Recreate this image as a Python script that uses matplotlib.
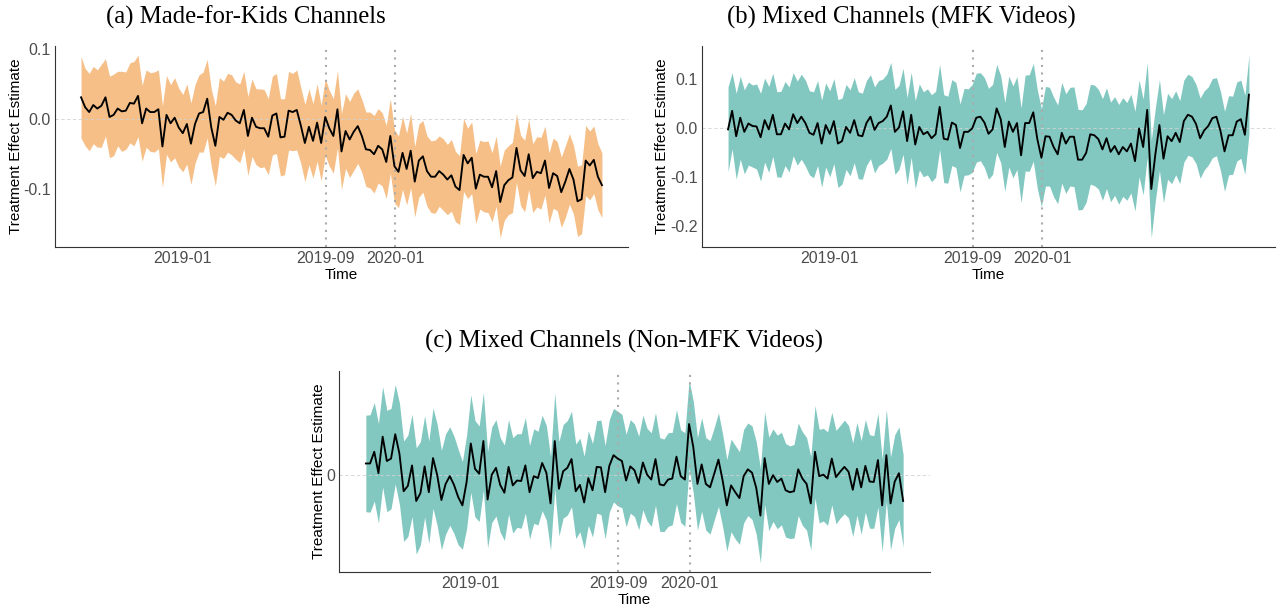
import numpy as np
import pandas as pd
import matplotlib
matplotlib.use("Agg")
import matplotlib.pyplot as plt
import matplotlib.dates as mdates

# ---------------- data ----------------
start_date = "2018-07-10"
n_weeks = 129
tick_dates = ["2019-01-01", "2019-09-04", "2020-01-01"]
tick_labels = ["2019-01", "2019-09", "2020-01"]
event_dates = ["2019-09-04", "2020-01-01"]

est_a = [0.031, 0.017, 0.010, 0.020, 0.015, 0.019, 0.031, 0.003, 0.006, 0.015,
         0.011, 0.012, 0.023, 0.022, 0.033, -0.006, 0.015, 0.010, 0.010, 0.014,
         -0.039, 0.006, -0.006, 0.002, -0.012, -0.020, -0.007, -0.035, -0.007, 0.008,
         0.010, 0.029, -0.012, -0.038, 0.003, -0.001, 0.009, 0.006, -0.002, -0.006,
         0.013, -0.024, 0.002, -0.011, -0.013, -0.013, -0.025, 0.005, 0.008, -0.026,
         -0.025, 0.012, 0.010, 0.013, -0.009, -0.034, -0.011, -0.031, -0.005, -0.034,
         0.003, -0.013, -0.024, 0.014, -0.046, -0.017, -0.029, -0.018, -0.010, -0.024,
         -0.043, -0.044, -0.050, -0.038, -0.043, -0.061, -0.024, -0.067, -0.075, -0.048,
         -0.071, -0.045, -0.089, -0.059, -0.053, -0.074, -0.082, -0.082, -0.074, -0.079,
         -0.086, -0.080, -0.096, -0.101, -0.051, -0.063, -0.055, -0.099, -0.079, -0.082,
         -0.082, -0.097, -0.074, -0.118, -0.094, -0.087, -0.083, -0.041, -0.073, -0.081,
         -0.050, -0.084, -0.075, -0.077, -0.059, -0.098, -0.077, -0.081, -0.104, -0.089,
         -0.071, -0.086, -0.117, -0.114, -0.059, -0.066, -0.058, -0.082, -0.094]
hw_a = [0.058, 0.055, 0.055, 0.055, 0.055, 0.059, 0.055, 0.058, 0.058, 0.053,
        0.057, 0.055, 0.057, 0.060, 0.058, 0.054, 0.055, 0.056, 0.057, 0.056,
        0.058, 0.056, 0.055, 0.057, 0.056, 0.055, 0.057, 0.058, 0.056, 0.055,
        0.057, 0.056, 0.055, 0.057, 0.056, 0.055, 0.056, 0.057, 0.055, 0.056,
        0.055, 0.056, 0.055, 0.054, 0.056, 0.055, 0.054, 0.056, 0.057, 0.055,
        0.054, 0.056, 0.055, 0.057, 0.054, 0.055, 0.054, 0.053, 0.055, 0.054,
        0.055, 0.054, 0.053, 0.055, 0.054, 0.053, 0.054, 0.055, 0.053, 0.052,
        0.053, 0.054, 0.055, 0.053, 0.052, 0.052, 0.053, 0.052, 0.051, 0.052,
        0.051, 0.053, 0.050, 0.052, 0.051, 0.050, 0.051, 0.052, 0.050, 0.051,
        0.050, 0.051, 0.050, 0.049, 0.052, 0.050, 0.051, 0.050, 0.049, 0.050,
        0.051, 0.049, 0.050, 0.051, 0.050, 0.049, 0.050, 0.049, 0.050, 0.051,
        0.050, 0.049, 0.050, 0.051, 0.049, 0.050, 0.050, 0.049, 0.050, 0.051,
        0.050, 0.049, 0.050, 0.049, 0.050, 0.049, 0.048, 0.047, 0.046]

est_b = [-0.003, 0.035, -0.017, 0.021, -0.008, 0.009, 0.004, 0.003, -0.019, 0.016,
         -0.003, 0.027, -0.013, -0.013, 0.009, -0.003, 0.028, 0.010, 0.023, 0.010,
         -0.010, -0.014, 0.010, -0.032, 0.006, -0.012, 0.014, -0.032, -0.027, 0.002,
         -0.010, 0.016, -0.015, -0.017, 0.010, 0.023, -0.004, 0.010, 0.014, 0.023,
         0.046, -0.008, 0.001, 0.034, -0.027, 0.027, -0.034, 0.002, -0.013, -0.008,
         -0.021, -0.013, 0.043, -0.022, -0.024, 0.011, 0.006, -0.041, -0.008, -0.008,
         -0.001, 0.021, 0.023, 0.011, -0.012, -0.003, 0.040, 0.018, -0.039, 0.013,
         -0.008, 0.010, -0.056, 0.010, 0.010, 0.032, -0.023, -0.061, -0.017, -0.018,
         -0.039, -0.054, -0.010, -0.032, -0.018, -0.018, -0.065, -0.065, -0.051, -0.013,
         -0.015, -0.023, -0.044, -0.021, -0.049, -0.037, -0.054, -0.039, -0.048, -0.032,
         -0.068, -0.001, -0.039, 0.037, -0.125, -0.054, 0.006, -0.063, -0.017, -0.027,
         -0.010, -0.029, 0.014, 0.027, 0.023, 0.008, -0.021, -0.005, 0.004, 0.020,
         0.023, -0.006, -0.048, -0.015, -0.015, 0.013, 0.018, -0.014, 0.068]
hw_b = [0.087, 0.078, 0.088, 0.085, 0.086, 0.085, 0.084, 0.087, 0.090, 0.086,
        0.088, 0.085, 0.087, 0.088, 0.086, 0.087, 0.085, 0.086, 0.087, 0.088,
        0.086, 0.088, 0.087, 0.089, 0.086, 0.088, 0.087, 0.090, 0.088, 0.087,
        0.088, 0.087, 0.089, 0.088, 0.087, 0.086, 0.088, 0.087, 0.086, 0.087,
        0.088, 0.087, 0.086, 0.088, 0.089, 0.087, 0.090, 0.088, 0.087, 0.088,
        0.089, 0.088, 0.087, 0.090, 0.089, 0.088, 0.087, 0.090, 0.089, 0.088,
        0.090, 0.091, 0.090, 0.092, 0.093, 0.092, 0.090, 0.089, 0.091, 0.093,
        0.094, 0.095, 0.097, 0.098, 0.099, 0.100, 0.101, 0.100, 0.102, 0.101,
        0.102, 0.101, 0.103, 0.102, 0.101, 0.102, 0.103, 0.102, 0.101, 0.102,
        0.103, 0.102, 0.104, 0.103, 0.102, 0.101, 0.102, 0.101, 0.100, 0.101,
        0.102, 0.099, 0.098, 0.097, 0.100, 0.095, 0.093, 0.090, 0.088, 0.087,
        0.086, 0.085, 0.084, 0.083, 0.082, 0.081, 0.082, 0.081, 0.080, 0.081,
        0.080, 0.081, 0.082, 0.081, 0.080, 0.081, 0.080, 0.081, 0.081]

est_c = [0.023, 0.023, 0.047, 0.003, 0.078, 0.028, 0.033, 0.083, 0.043, -0.034,
         -0.023, 0.019, -0.054, -0.038, 0.017, -0.036, 0.034, -0.001, -0.052, -0.019,
         -0.003, -0.021, -0.046, -0.063, -0.015, 0.064, 0.012, 0.002, 0.069, -0.051,
         0.000, 0.014, -0.021, -0.037, 0.016, -0.022, -0.012, -0.013, 0.019, -0.036,
         -0.003, -0.007, 0.024, 0.004, -0.059, 0.069, -0.029, 0.007, 0.014, 0.032,
         -0.034, -0.021, -0.057, -0.007, -0.032, 0.016, 0.015, -0.036, 0.018, 0.040,
         0.033, 0.028, -0.012, 0.017, 0.009, -0.017, 0.025, 0.000, -0.010, 0.032,
         -0.020, -0.022, -0.010, -0.008, 0.037, -0.003, -0.010, 0.104, 0.057, -0.019,
         0.021, -0.019, -0.026, 0.002, 0.031, -0.012, -0.063, -0.022, -0.036, -0.048,
         -0.003, 0.011, 0.004, -0.027, -0.084, 0.034, -0.019, -0.001, -0.015, -0.008,
         -0.032, -0.036, -0.034, 0.011, -0.008, -0.019, -0.059, 0.047, -0.003, 0.000,
         -0.008, 0.033, -0.005, 0.006, 0.016, 0.006, -0.031, 0.012, -0.026, 0.018,
         -0.014, -0.015, 0.030, -0.063, 0.040, -0.059, -0.014, 0.003, -0.054]
hw_c = [0.099, 0.100, 0.101, 0.102, 0.103, 0.104, 0.103, 0.102, 0.104, 0.103,
        0.104, 0.105, 0.109, 0.106, 0.104, 0.105, 0.103, 0.104, 0.102, 0.103,
        0.101, 0.100, 0.098, 0.090, 0.096, 0.100, 0.099, 0.098, 0.100, 0.099,
        0.098, 0.099, 0.097, 0.098, 0.097, 0.098, 0.096, 0.097, 0.098, 0.096,
        0.097, 0.096, 0.098, 0.097, 0.096, 0.098, 0.097, 0.096, 0.097, 0.098,
        0.097, 0.096, 0.095, 0.097, 0.096, 0.095, 0.097, 0.096, 0.095, 0.096,
        0.097, 0.096, 0.095, 0.096, 0.095, 0.096, 0.097, 0.095, 0.096, 0.095,
        0.096, 0.095, 0.096, 0.095, 0.096, 0.095, 0.096, 0.090, 0.094, 0.095,
        0.096, 0.095, 0.096, 0.095, 0.096, 0.095, 0.094, 0.095, 0.096, 0.095,
        0.096, 0.095, 0.096, 0.095, 0.097, 0.095, 0.096, 0.095, 0.096, 0.095,
        0.096, 0.095, 0.096, 0.095, 0.096, 0.095, 0.096, 0.095, 0.096, 0.095,
        0.096, 0.095, 0.096, 0.095, 0.096, 0.095, 0.096, 0.095, 0.096, 0.095,
        0.096, 0.095, 0.096, 0.095, 0.094, 0.095, 0.096, 0.095, 0.095]

titles = ["(a) Made-for-Kids Channels",
          "(b) Mixed Channels (MFK Videos)",
          "(c) Mixed Channels (Non-MFK Videos)"]
yticks_a = [0.1, 0.0, -0.1]
yticks_b = [0.1, 0.0, -0.1, -0.2]
yticks_c = [0.0]
yticklabels_a = ["0.1", "0.0", "-0.1"]
yticklabels_b = ["0.1", "0.0", "-0.1", "-0.2"]
yticklabels_c = ["0"]

# ---------------- style ----------------
ORANGE = "#F5BF87"
TEAL = "#82C8C1"
W, H = 1278, 605
SANS = ["Liberation Sans", "DejaVu Sans"]
SERIF = ["Liberation Serif", "DejaVu Serif"]

fig = plt.figure(figsize=(W / 100, H / 100), dpi=100)


def box(x0, y0, x1, y1):
    return [x0 / W, 1 - y1 / H, (x1 - x0) / W, (y1 - y0) / H]


dates = pd.date_range(start_date, periods=n_weeks, freq="7D")


def panel(rect, est, hw, color, yt, ytl, ylab_x):
    ax = fig.add_axes(rect)
    est = np.asarray(est, dtype=float)
    hw = np.asarray(hw, dtype=float)
    n = min(len(est), len(hw), len(dates))
    d = dates[:n]
    lo = est[:n] - hw[:n]
    hi = est[:n] + hw[:n]
    ax.fill_between(d, lo, hi, color=color, lw=0, zorder=1)
    ax.axhline(0, color="#D2D2D2", lw=0.6, ls=(0, (4, 3)), zorder=2)
    for ed in event_dates:
        ax.axvline(pd.Timestamp(ed), color="#ABABAB", lw=1.5,
                   ls=(0, (1.0, 2.6)), zorder=3, dash_capstyle="butt")
    ax.plot(d, est[:n], color="black", lw=1.35, zorder=4)
    x0 = mdates.date2num(d[0])
    x1 = mdates.date2num(d[-1])
    span = x1 - x0
    ax.set_xlim(x0 - 0.05 * span, x1 + 0.05 * span)
    ymin, ymax = lo.min(), hi.max()
    yr = ymax - ymin
    ax.set_ylim(ymin - 0.05 * yr, ymax + 0.05 * yr)
    ax.set_xticks([mdates.date2num(pd.Timestamp(t)) for t in tick_dates])
    ax.set_xticklabels(tick_labels)
    ax.set_yticks(yt)
    ax.set_yticklabels(ytl)
    for s in ["top", "right"]:
        ax.spines[s].set_visible(False)
    for s in ["left", "bottom"]:
        ax.spines[s].set_color("#333333")
        ax.spines[s].set_linewidth(0.8)
    ax.tick_params(length=0, pad=3, labelsize=11.5, labelcolor="#4D4D4D")
    for lab in ax.get_xticklabels() + ax.get_yticklabels():
        lab.set_family(SANS)
    ax.set_xlabel("Time", family=SANS, fontsize=11, labelpad=1)
    ax.set_ylabel("Treatment Effect Estimate", family=SANS, fontsize=11)
    ax.yaxis.set_label_coords(ylab_x, 0.5)
    return ax


panel(box(55, 46, 628, 247), est_a, hw_a, ORANGE, yticks_a, yticklabels_a, -0.056)
panel(box(702, 46, 1275, 247), est_b, hw_b, TEAL, yticks_b, yticklabels_b, -0.058)
panel(box(339, 371, 930, 572), est_c, hw_c, TEAL, yticks_c, yticklabels_c, -0.022)

fig.text(246 / W, 1 - 17 / H, titles[0], family=SERIF, fontsize=17.8,
         ha="center", va="center")
fig.text(901 / W, 1 - 17 / H, titles[1], family=SERIF, fontsize=17.8,
         ha="center", va="center")
fig.text(624 / W, 1 - 341 / H, titles[2], family=SERIF, fontsize=17.8,
         ha="center", va="center")

fig.savefig("out.png", dpi=100)
